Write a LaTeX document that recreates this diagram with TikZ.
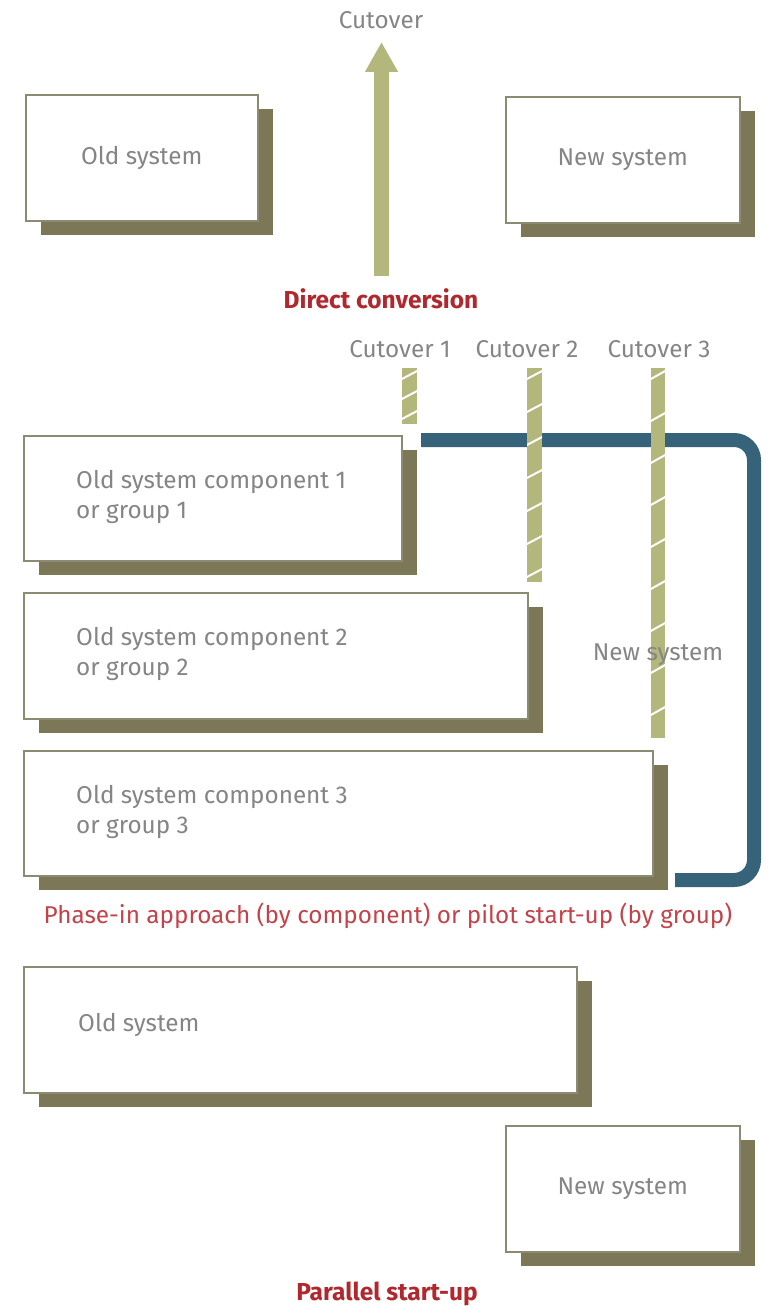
\documentclass[tikz,border=0pt]{standalone}
\usepackage{fontspec}
\setmainfont{Fira Sans}
\usetikzlibrary{arrows.meta,shadows}
\definecolor{shade}{HTML}{7B7757}
\definecolor{frame}{HTML}{8C8A72}
\definecolor{sage}{HTML}{B4B77C}
\definecolor{tealbar}{HTML}{36627A}
\definecolor{txt}{HTML}{858585}
\definecolor{redA}{HTML}{B0282E}
\definecolor{redB}{HTML}{C2434A}

% hatched cutover bar: x-left, x-right, y-top, y-bottom, hatch gap
\newcommand\hatchbar[5]{%
  \begin{scope}
    \clip (#1,#3) rectangle (#2,#4);
    \fill[sage] (#1,#3) rectangle (#2,#4);
    \foreach \k in {0,...,25}
      \draw[white, line width=2] ({#1-2},{#3+12+\k*#5}) -- ({#2+2},{#3+2+\k*#5});
  \end{scope}}

\begin{document}
\begin{tikzpicture}[x=1pt,y=-1pt,
  sysbox/.style={draw=frame, line width=1.5, fill=white, anchor=north west,
    inner sep=0, drop shadow={shadow xshift=15pt, shadow yshift=-14pt,
    opacity=1, fill=shade}},
  lbl/.style={text=txt, font=\fontsize{24.3}{30}\selectfont, inner sep=0},
  boxlbl/.style={lbl, anchor=west, align=left},
  headred/.style={text=redA, font=\fontsize{24.5}{28}\selectfont\bfseries, inner sep=0},
  capred/.style={text=redB, font=\fontsize{24.3}{28}\selectfont, inner sep=0},
  cutarrow/.style={sage, line width=15, -{Triangle[width=31pt,length=30pt]}},
  bracket/.style={tealbar, line width=14, rounded corners=20}]
\useasboundingbox (0,0) rectangle (769,1306);

% ---- direct conversion ----
\node[sysbox, minimum width=232, minimum height=126] (old1) at (25,94) {};
\node[sysbox, minimum width=234, minimum height=126] (new1) at (505,96) {};
\node[lbl] (old1t) at (old1.center) {Old system};
\node[lbl] (new1t) at (new1.center) {New system};
\node[lbl] (cut) at (381,20) {Cutover};
\coordinate (abase) at (381.5,276);
\coordinate (atip) at (381.5,42);
\draw[cutarrow] (abase) -- (atip);
\node[headred] (dconv) at (381,299) {Direct conversion};

% ---- phase-in ----
\node[sysbox, minimum width=378, minimum height=125] (compA) at (23,435) {};
\node[sysbox, minimum width=504, minimum height=126] (compB) at (23,592) {};
\node[sysbox, minimum width=629, minimum height=125] (compC) at (23,750) {};
\node[boxlbl] (compAt) at (76,497) {Old system component 1\\or group 1};
\node[boxlbl] (compBt) at (76,654) {Old system component 2\\or group 2};
\node[boxlbl] (compCt) at (76,812) {Old system component 3\\or group 3};

\coordinate (bstart) at (421,440);
\coordinate (bend) at (675,880);
\draw[bracket] (bstart) -- (754,440) -- (754,880) -- (bend);

\hatchbar{402}{417}{368}{424}{20}
\hatchbar{527}{542}{368}{582}{33}
\hatchbar{651}{665}{368}{738}{42}

\node[lbl] (cut1) at (400,349) {Cutover 1};
\node[lbl] (cut2) at (527,349) {Cutover 2};
\node[lbl] (cut3) at (659,349) {Cutover 3};
\node[lbl] (newsys) at (658,655) {New system};
\node[capred] (phase) at (388,916) {Phase-in approach (by component) or pilot start-up (by group)};

% ---- parallel start-up ----
\node[sysbox, minimum width=553, minimum height=126] (oldP) at (23,966) {};
\node[sysbox, minimum width=234, minimum height=126] (newP) at (505,1125) {};
\node[boxlbl] (oldPt) at (78,1025) {Old system};
\node[lbl] (newPt) at (newP.center) {New system};
\node[headred] (par) at (387,1294) {Parallel start-up};
\end{tikzpicture}
\end{document}
